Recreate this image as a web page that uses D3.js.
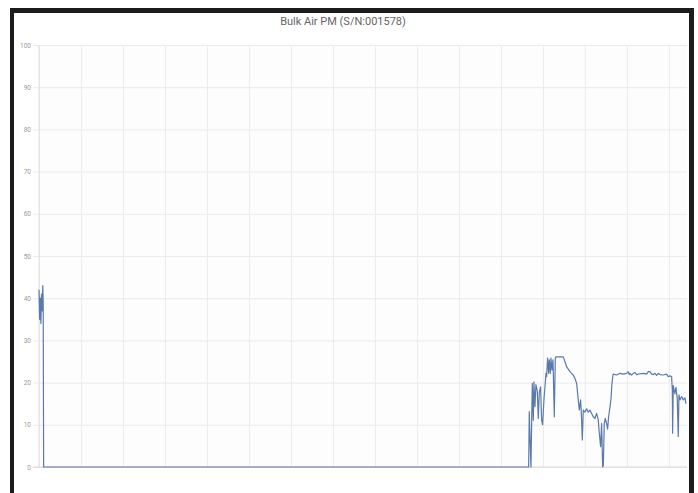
<!DOCTYPE html>
<html>
<head>
<meta charset="utf-8">
<script src="https://cdn.jsdelivr.net/npm/d3@7"></script>
<style>
  html, body { margin: 0; padding: 0; background: #fff; }
  svg { display: block; }
</style>
</head>
<body>
<svg id="chart" width="698" height="493"></svg>
<script>
// ---- data (time in days from start, value in PM units) ----
const chartTitle = "Bulk Air PM (S/N:001578)";
const yTicks = [0, 10, 20, 30, 40, 50, 60, 70, 80, 90, 100];
const xGridDays = [0, 1, 2, 3, 4, 5, 6, 7, 8, 9, 10, 11, 12, 13, 14, 15];
const xMax = 15.43;

const times = [
  0.00, 0.015, 0.03, 0.045, 0.06, 0.075, 0.09, 0.10, 0.11,
  11.66, 11.674, 11.714, 11.746, 11.770, 11.786, 11.809, 11.833, 11.865, 11.889, 11.913,
  11.944, 11.968, 11.992, 12.024, 12.048, 12.071, 12.087, 12.111, 12.135, 12.151,
  12.175, 12.190, 12.214, 12.238, 12.254, 12.270, 12.294, 12.310, 12.484, 12.563,
  12.643, 12.682, 12.722, 12.762, 12.802, 12.841, 12.865, 12.897, 12.921, 12.937,
  12.960, 13.000, 13.040, 13.079, 13.119, 13.159, 13.198, 13.238, 13.278, 13.317,
  13.341, 13.373, 13.397, 13.421, 13.437, 13.460, 13.484, 13.516, 13.540, 13.563,
  13.595, 13.619, 13.643, 13.667,
  13.675, 13.754, 13.833, 13.913, 13.992, 14.032, 14.056, 14.071, 14.111, 14.151,
  14.190, 14.230, 14.310, 14.389, 14.468, 14.508, 14.548, 14.587, 14.627, 14.667,
  14.706, 14.746, 14.786, 14.865, 14.944, 14.984, 15.024, 15.064, 15.080, 15.088,
  15.103, 15.143, 15.167, 15.198, 15.222, 15.238, 15.262, 15.302, 15.341, 15.381, 15.405
];
const values = [
  42, 35, 40, 34, 41, 37, 43, 39, 0,
  0, 13.1, 0, 19.8, 11.1, 20.2, 14.3, 19.5, 18, 11.5, 17.7,
  19, 11.1, 10, 16, 19, 22.2, 21.4, 25.8, 22.2, 25.4,
  22.2, 25.8, 23, 25.4, 19, 11.9, 25.8, 26.1, 26.1, 23.8,
  22.6, 22.2, 21.8, 21, 19.8, 15.9, 13.5, 15.9, 11.1, 6.4,
  13.5, 13, 13.8, 13, 13.5, 12.7, 11.9, 11.5, 12.7, 11.1,
  8.1, 4.8, 10.3, 0, 0.4, 10.3, 11.5, 10.3, 9, 11.9,
  14.2, 16, 19.8, 21.8,
  22.0, 21.8, 22.2, 22.0, 22.2, 22.6, 21.9, 22.2, 21.8, 22.2,
  22.4, 21.9, 22.1, 22.2, 22.0, 22.6, 22.6, 22.0, 21.9, 22.2,
  21.7, 22.2, 21.9, 21.8, 22.0, 21.4, 21.6, 21.4, 18.2, 8.0,
  19.3, 17.3, 18.9, 16.2, 7.2, 17.1, 15.9, 16.7, 15.9, 16.4, 15.0
];

// ---- drawing ----
const svg = d3.select("#chart");
const W = 698, H = 493;
const plot = { left: 39, right: 687, top: 45, bottom: 467 };

// frame (top, left, right black bars)
svg.append("rect").attr("x", 10).attr("y", 8).attr("width", 684).attr("height", 5).attr("fill", "#1c1c1c");
svg.append("rect").attr("x", 10).attr("y", 8).attr("width", 4).attr("height", H - 8).attr("fill", "#1c1c1c");
svg.append("rect").attr("x", 689).attr("y", 8).attr("width", 5).attr("height", H - 8).attr("fill", "#1c1c1c");

const x = d3.scaleLinear().domain([0, xMax]).range([plot.left, plot.right]);
const y = d3.scaleLinear().domain([0, 100]).range([plot.bottom, plot.top]);

// plot background
svg.append("rect")
  .attr("x", plot.left).attr("y", plot.top)
  .attr("width", plot.right - plot.left).attr("height", plot.bottom - plot.top)
  .attr("fill", "#fdfdfd");

// horizontal grid + y labels
const yAxis = d3.axisLeft(y)
  .tickValues(yTicks)
  .tickSize(-(plot.right - plot.left) - 6)
  .tickPadding(2);
const yg = svg.append("g")
  .attr("transform", `translate(${plot.left - 6},0)`)
  .call(yAxis);
yg.select(".domain").remove();
yg.selectAll(".tick line")
  .attr("stroke", "#ebebeb").attr("stroke-width", 1)
  .attr("x1", 0).attr("x2", plot.right - plot.left + 6);
yg.selectAll(".tick text")
  .attr("fill", "#9a9a9a")
  .attr("font-family", "Roboto, sans-serif")
  .attr("font-size", 6.5);

// vertical grid
const xAxis = d3.axisBottom(x)
  .tickValues(xGridDays)
  .tickSize(-(plot.bottom - plot.top))
  .tickFormat("");
const xg = svg.append("g")
  .attr("transform", `translate(0,${plot.bottom})`)
  .call(xAxis);
xg.select(".domain").remove();
xg.selectAll(".tick line").attr("stroke", "#ececec").attr("stroke-width", 1);

// axis lines
svg.append("line")
  .attr("x1", x(0)).attr("x2", x(0))
  .attr("y1", plot.top).attr("y2", plot.bottom)
  .attr("stroke", "#e6dede");
svg.append("line")
  .attr("x1", plot.left - 6).attr("x2", plot.right)
  .attr("y1", y(0)).attr("y2", y(0))
  .attr("stroke", "#e2d8d8");

// data line
const data = times.map((t, i) => ({ t, v: values[i] }));
const line = d3.line().x(d => x(d.t)).y(d => y(d.v));
svg.append("path")
  .datum(data)
  .attr("d", line)
  .attr("fill", "none")
  .attr("stroke", "#5a79ad")
  .attr("stroke-width", 1.2)
  .attr("stroke-linejoin", "round");

// title
svg.append("text")
  .attr("x", 343).attr("y", 25)
  .attr("text-anchor", "middle")
  .attr("font-family", "Roboto, sans-serif")
  .attr("font-size", 11)
  .attr("fill", "#666")
  .text(chartTitle);
</script>
</body>
</html>
